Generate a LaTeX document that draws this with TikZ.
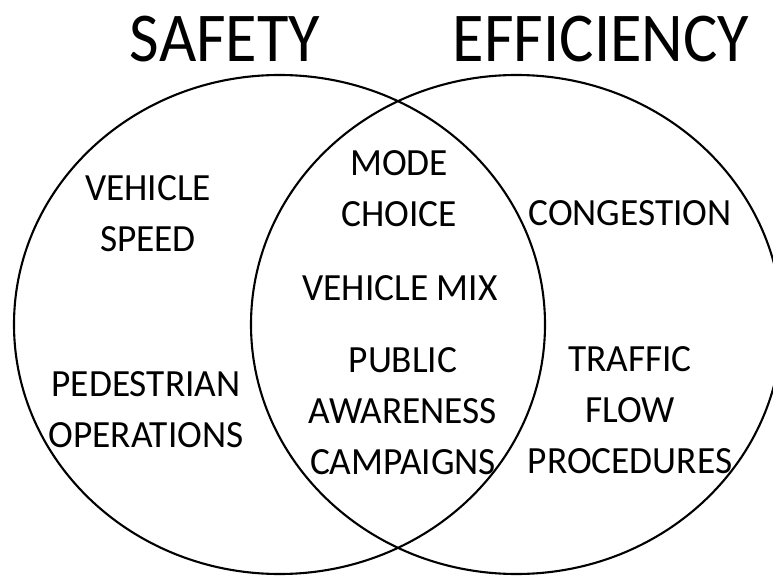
\documentclass[tikz,border=0pt]{standalone}
\usepackage{fontspec}
\setmainfont{Carlito}
\newfontfamily\titlefnt[FakeStretch=0.92]{Carlito}
\newfontfamily\lblfnt[FakeStretch=0.97]{Carlito}
\usetikzlibrary{shapes.geometric}
\begin{document}
\begin{tikzpicture}[x=1pt,y=-1pt,
  setellipse/.style={draw=black,line width=2.1pt,ellipse,inner sep=0pt,outer sep=0pt,minimum width=531pt,minimum height=499pt},
  title/.style={font={\titlefnt\fontsize{70}{76}\selectfont},inner sep=0pt,anchor=center},
  lbl/.style={font={\lblfnt\fontsize{38.5}{51}\selectfont},align=center,inner sep=0pt,anchor=center}]
\useasboundingbox (0,0) rectangle (773,577);
\clip (0,0) rectangle (773,577);
\node[setellipse] (safe) at (279.5,324.5) {};
\node[setellipse] (eff) at (516.5,324.5) {};
\node[title] (tsafe) at (225,39) {SAFETY};
\node[title] (teff) at (601,39) {EFFICIENCY};
\node[lbl] (speed) at (148,214) {VEHICLE\\SPEED};
\node[lbl] (ped) at (146,410) {PEDESTRIAN\\OPERATIONS};
\node[lbl] (mode) at (399,189) {MODE\\CHOICE};
\node[lbl] (mix) at (400,288) {VEHICLE MIX};
\node[lbl] (pub) at (403,411) {PUBLIC\\AWARENESS\\CAMPAIGNS};
\node[lbl] (cong) at (630,213) {CONGESTION};
\node[lbl] (flow) at (630,410) {TRAFFIC\\FLOW\\PROCEDURES};
\end{tikzpicture}
\end{document}
